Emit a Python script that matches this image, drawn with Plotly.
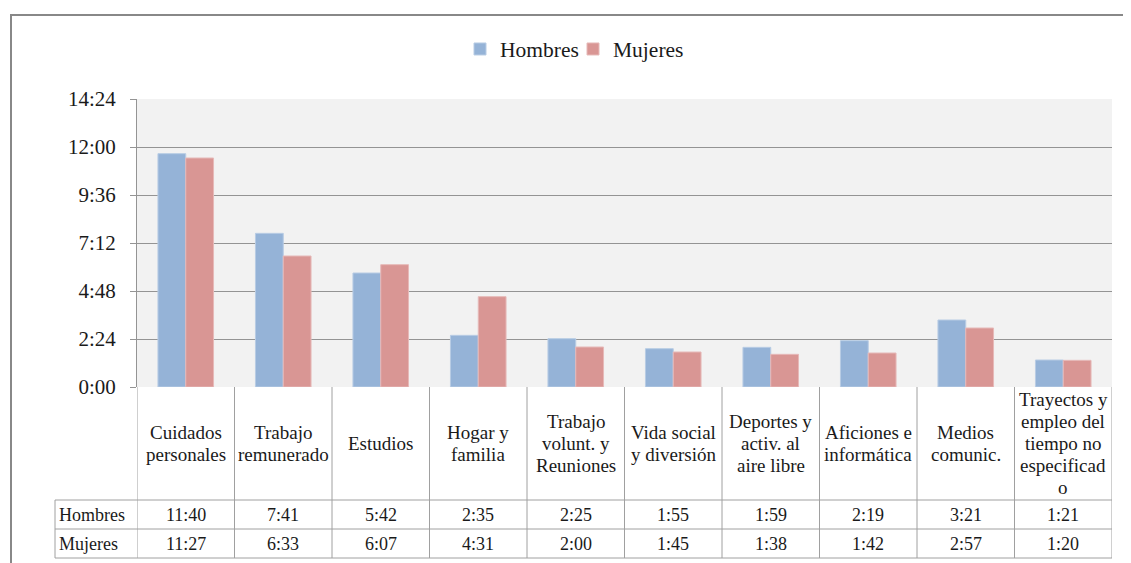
import plotly.graph_objects as go

categorias = [
    "Cuidados<br>personales", "Trabajo<br>remunerado", "Estudios",
    "Hogar y<br>familia", "Trabajo<br>volunt. y<br>Reuniones",
    "Vida social<br>y diversión", "Deportes y<br>activ. al<br>aire libre",
    "Aficiones e<br>informática", "Medios<br>comunic.",
    "Trayectos y<br>empleo del<br>tiempo no<br>especificad<br>o",
]
hombres = ["11:40", "7:41", "5:42", "2:35", "2:25", "1:55", "1:59", "2:19", "3:21", "1:21"]
mujeres = ["11:27", "6:33", "6:07", "4:31", "2:00", "1:45", "1:38", "1:42", "2:57", "1:20"]
ticks_texto = ["0:00", "2:24", "4:48", "7:12", "9:36", "12:00", "14:24"]


def a_minutos(t):
    h, m = t.split(":")
    return int(h) * 60 + int(m)


AZUL = "#95b3d7"
ROJO = "#d99694"
BORDE = "#a0a0a0"
FUENTE = "Liberation Serif, Times New Roman, serif"

# the page puts the figure 8px in from the window corner
OFF = 8
W, H = 1131 - OFF, 563 - OFF
L, R, T, B = 137 - OFF, 19, 99 - OFF, 176
pw, ph = W - L - R, H - T - B


def px_y(py):
    # window pixel row -> paper y
    return (H - B - (py - OFF)) / ph


def px_x(px):
    return (px - OFF - L) / pw


xs = list(range(len(categorias)))

fig = go.Figure()
fig.add_trace(go.Bar(x=xs, y=[a_minutos(v) for v in hombres], name="Hombres",
                     marker=dict(color=AZUL, line=dict(color="#b8cce4", width=1))))
fig.add_trace(go.Bar(x=xs, y=[a_minutos(v) for v in mujeres], name="Mujeres",
                     marker=dict(color=ROJO, line=dict(color="#e6b9b8", width=1))))

tickvals = [a_minutos(t) for t in ticks_texto]

y_cat = px_y(500)
y_h = px_y(529)
y_m = px_y(558)
x_izq = px_x(55)

shapes = []
# lineas verticales de la tabla
for i in range(len(categorias) + 1):
    shapes.append(dict(type="line", xref="x", yref="paper", x0=i - 0.5, x1=i - 0.5,
                       y0=0, y1=y_m, line=dict(color=BORDE, width=1)))
shapes.append(dict(type="line", xref="paper", yref="paper", x0=x_izq, x1=x_izq,
                   y0=y_cat, y1=y_m, line=dict(color=BORDE, width=1)))
for yy in (y_cat, y_h, y_m):
    shapes.append(dict(type="line", xref="paper", yref="paper", x0=x_izq, x1=1,
                       y0=yy, y1=yy, line=dict(color=BORDE, width=1)))
# marco exterior
shapes.append(dict(type="rect", xref="paper", yref="paper", x0=px_x(11), x1=px_x(1150),
                   y0=px_y(580), y1=px_y(15), line=dict(color="#888888", width=2)))

annotations = []
for i, c in enumerate(categorias):
    # one annotation per line, Excel-like line spacing (22px)
    lineas = c.split("<br>")
    n = len(lineas)
    for k, linea in enumerate(lineas):
        yc = 443 + (k - (n - 1) / 2) * 22
        annotations.append(dict(x=i, y=px_y(yc), xref="x", yref="paper", text=linea,
                                showarrow=False, font=dict(family=FUENTE, size=19),
                                yanchor="middle"))
    annotations.append(dict(x=i, y=px_y(514.5), xref="x", yref="paper", text=hombres[i],
                            showarrow=False, font=dict(family=FUENTE, size=18),
                            yanchor="middle"))
    annotations.append(dict(x=i, y=px_y(543.5), xref="x", yref="paper", text=mujeres[i],
                            showarrow=False, font=dict(family=FUENTE, size=18),
                            yanchor="middle"))
for nombre, py in (("Hombres", 514.5), ("Mujeres", 543.5)):
    annotations.append(dict(x=px_x(57), y=px_y(py), xref="paper", yref="paper", text=nombre,
                            showarrow=False, font=dict(family=FUENTE, size=18),
                            xanchor="left", yanchor="middle"))

fig.update_layout(
    width=W, height=H,
    margin=dict(l=L, r=R, t=T, b=B),
    paper_bgcolor="white",
    plot_bgcolor="#f2f2f2",
    font=dict(family=FUENTE, size=19, color="#1a1a1a"),
    barmode="group",
    bargap=0.43,
    bargroupgap=0,
    showlegend=True,
    legend=dict(orientation="h", x=px_x(460), y=px_y(49), xanchor="left", yanchor="middle",
                font=dict(family=FUENTE, size=21.5), itemwidth=30, traceorder="normal",
                entrywidth=68, entrywidthmode="pixels"),
    xaxis=dict(showticklabels=False, showgrid=False, zeroline=False,
               range=[-0.5, len(categorias) - 0.5], fixedrange=True),
    yaxis=dict(range=[0, 864], tickvals=tickvals, ticktext=ticks_texto,
               showgrid=True, gridcolor="#949494", gridwidth=1,
               showline=True, linecolor="#949494", linewidth=1,
               ticks="outside", ticklen=6, tickcolor="#949494",
               ticklabelstandoff=10, zeroline=False,
               tickfont=dict(family=FUENTE, size=21)),
    shapes=shapes,
    annotations=annotations,
)

fig.write_html("out.html")
